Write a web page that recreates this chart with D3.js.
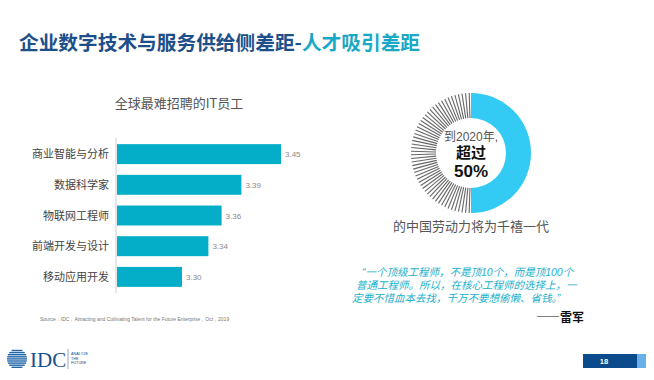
<!DOCTYPE html>
<html lang="zh">
<head>
<meta charset="UTF-8">
<title>人才吸引差距</title>
<style>
  body { margin: 0; background: #fff; }
  svg { display: block; font-family: "Noto Sans CJK SC", "Noto Sans", sans-serif; }
  .mixed { font-family: "Liberation Sans", "Noto Sans CJK SC", sans-serif; }
</style>
</head>
<body>
<div id="chart"></div>
<script src="https://d3js.org/d3.v7.min.js"></script>
<script>
// data
const roles = ["商业智能与分析", "数据科学家", "物联网工程师", "前端开发与设计", "移动应用开发"];
const scores = [3.45, 3.39, 3.36, 3.34, 3.30];
const millennialShare = 50; // percent of Chinese workforce by 2020
const quoteLines = [
  "“一个顶级工程师，不是顶10个，而是顶100个",
  "普通工程师。所以，在核心工程师的选择上，一",
  "定要不惜血本去找，千万不要想偷懒、省钱。”"
];

const W = 654, H = 380;
const svg = d3.select("#chart").append("svg")
  .attr("width", W).attr("height", H);

// title
const title = svg.append("text")
  .attr("x", 19).attr("y", 50)
  .attr("font-size", 19.7).attr("font-weight", "bold");
title.append("tspan").attr("fill", "#1d4f8a").text("企业数字技术与服务供给侧差距-");
title.append("tspan").attr("fill", "#19a9c6").text("人才吸引差距");

// bar chart
svg.append("text")
  .attr("x", 179).attr("y", 108)
  .attr("text-anchor", "middle")
  .attr("font-size", 13).attr("fill", "#555")
  .text("全球最难招聘的IT员工");

const bar = svg.append("g").attr("transform", "translate(116, 138)");

const x = d3.scaleLinear().domain([3.2, 3.45]).range([0, 165]);
const y = d3.scaleBand().domain(roles).range([0, 155]).paddingInner(0.35).paddingOuter(0.2);

bar.append("line")
  .attr("x1", 0).attr("x2", 0).attr("y1", 0).attr("y2", 155)
  .attr("stroke", "#d0d0d0");

bar.selectAll("rect")
  .data(roles)
  .join("rect")
  .attr("x", 1)
  .attr("y", d => y(d))
  .attr("width", (d, i) => x(scores[i]) - 1)
  .attr("height", y.bandwidth())
  .attr("fill", "#05aec8");

bar.selectAll(".val")
  .data(roles)
  .join("text")
  .attr("class", "val")
  .attr("x", (d, i) => x(scores[i]) + 4)
  .attr("y", d => y(d) + y.bandwidth() / 2 + 3)
  .attr("font-size", 8).attr("fill", "#8a8a8a")
  .attr("font-family", "Liberation Sans, sans-serif")
  .text((d, i) => scores[i].toFixed(2));

bar.selectAll(".cat")
  .data(roles)
  .join("text")
  .attr("class", "cat")
  .attr("x", -7)
  .attr("y", d => y(d) + y.bandwidth() / 2 + 4)
  .attr("text-anchor", "end")
  .attr("font-size", 11).attr("fill", "#444")
  .text(d => d);

svg.append("text")
  .attr("x", 40).attr("y", 321)
  .attr("font-size", 5).attr("fill", "#777")
  .attr("font-family", "Liberation Sans, sans-serif")
  .text("Source：IDC，Attracting and Cultivating Talent for the Future Enterprise，Oct，2019");

// donut
const cx = 471, cy = 153, r0 = 35, r1 = 60;
const donut = svg.append("g").attr("transform", `translate(${cx}, ${cy})`);
const split = 2 * Math.PI * millennialShare / 100;

donut.append("path")
  .attr("d", d3.arc().innerRadius(r0).outerRadius(r1).startAngle(0).endAngle(split)())
  .attr("fill", "#33cbf3");

// hatched remainder
const nTicks = 52;
const tickAngles = d3.range(nTicks).map(i => split + (2 * Math.PI - split) * (i + 0.5) / nTicks);
donut.selectAll(".tick")
  .data(tickAngles)
  .join("line")
  .attr("class", "tick")
  .attr("x1", a => r0 * Math.sin(a)).attr("y1", a => -r0 * Math.cos(a))
  .attr("x2", a => r1 * Math.sin(a)).attr("y2", a => -r1 * Math.cos(a))
  .attr("stroke", "#666").attr("stroke-width", 1.1);

// centre label
const centre = donut.append("text").attr("class", "mixed").attr("text-anchor", "middle");
centre.append("tspan")
  .attr("x", 0).attr("y", -12)
  .attr("font-size", 12).attr("fill", "#555")
  .text("到2020年,");
centre.append("tspan")
  .attr("x", 0).attr("y", 5)
  .attr("font-size", 15).attr("font-weight", "bold").attr("fill", "#111")
  .text("超过");
centre.append("tspan")
  .attr("x", 0).attr("y", 24)
  .attr("font-size", 17).attr("font-weight", "bold").attr("fill", "#111")
  .text(millennialShare + "%");

svg.append("text")
  .attr("x", cx).attr("y", 231).attr("text-anchor", "middle")
  .attr("font-size", 13).attr("fill", "#555")
  .text("的中国劳动力将为千禧一代");

// quote
const quote = svg.append("text").attr("class", "mixed")
  .attr("font-size", 10.5).attr("font-style", "italic").attr("fill", "#1ab0cb");
quote.selectAll("tspan")
  .data(quoteLines)
  .join("tspan")
  .attr("x", (d, i) => [362, 356, 352][i])
  .attr("y", (d, i) => 276 + i * 12.8)
  .text(d => d);

svg.append("text")
  .attr("x", 584).attr("y", 322).attr("text-anchor", "end")
  .attr("font-size", 12).attr("font-weight", "bold").attr("fill", "#111")
  .text("——雷军");

// footer logo
const logo = svg.append("g").attr("transform", "translate(17, 359)");
logo.selectAll("rect")
  .data(d3.range(-4, 5))
  .join("rect")
  .attr("x", d => -Math.sqrt(Math.max(0, 100 - (d * 2.1) ** 2)))
  .attr("y", d => d * 2.1 - 0.8)
  .attr("width", d => 2 * Math.sqrt(Math.max(0, 100 - (d * 2.1) ** 2)))
  .attr("height", 1.4)
  .attr("fill", "#1e64a8");
svg.append("text")
  .attr("x", 30).attr("y", 367)
  .attr("font-size", 21).attr("font-family", "Liberation Serif, serif").attr("fill", "#1a4f8e")
  .text("IDC");
svg.append("line")
  .attr("x1", 68).attr("x2", 68).attr("y1", 349).attr("y2", 369)
  .attr("stroke", "#9ab");
const tag = svg.append("text")
  .attr("font-size", 3.8).attr("fill", "#1a4f8e")
  .attr("font-family", "Liberation Sans, sans-serif");
tag.selectAll("tspan")
  .data(["ANALYZE", "THE", "FUTURE"])
  .join("tspan")
  .attr("x", 71).attr("y", (d, i) => 355 + i * 4.5)
  .text(d => d);

// page number
svg.append("rect").attr("x", 583).attr("y", 354).attr("width", 54).attr("height", 14).attr("fill", "#0b4a8b");
svg.append("rect").attr("x", 637).attr("y", 354).attr("width", 9).attr("height", 14).attr("fill", "#6ab0e8");
svg.append("text")
  .attr("x", 604).attr("y", 364).attr("text-anchor", "middle")
  .attr("font-size", 7.5).attr("font-weight", "bold").attr("fill", "#fff")
  .attr("font-family", "Liberation Sans, sans-serif")
  .text("18");
</script>
</body>
</html>
